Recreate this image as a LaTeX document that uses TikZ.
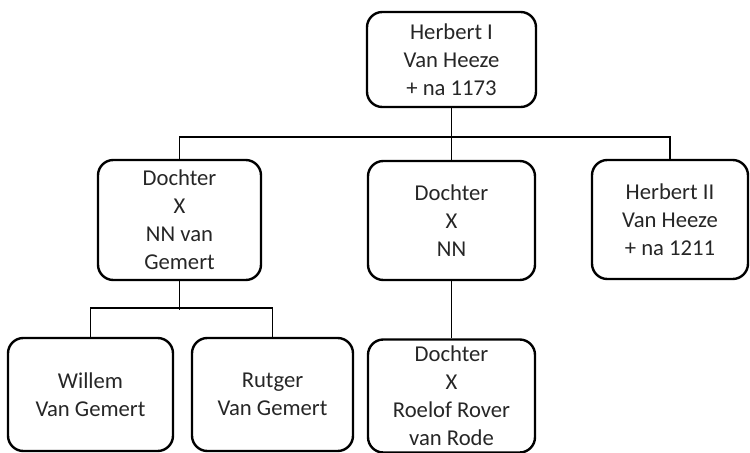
\documentclass[tikz,border=0pt]{standalone}
\usepackage{fontspec}
\setmainfont{Carlito}

\tikzset{every picture/.style={line width=0.75pt}}
\tikzset{
  famBox/.style={draw, rounded corners=11.5pt, line width=1.8pt, inner sep=0pt, align=center,
    text=black!85, font=\fontsize{17}{21}\selectfont},
  famLine/.style={line width=1.2pt}
}

\begin{document}
\begin{tikzpicture}[x=0.75pt,y=0.75pt,yscale=-1,xscale=1]
\useasboundingbox (0,0) rectangle (750,453);

%Rounded Rect [id:herbertOne]
\node [famBox, minimum width=126.75pt, minimum height=71.25pt] (herbertOne) at (451.5,59.5) {Herbert I\\Van Heeze\\+ na 1173};
%Rounded Rect [id:dochterGemert]
\node [famBox, minimum width=122.25pt, minimum height=90pt] (dochterGemert) at (179.5,220) {Dochter\\X\\NN van\\Gemert};
%Rounded Rect [id:dochterNN]
\node [famBox, minimum width=125.25pt, minimum height=89.25pt] (dochterNN) at (451.5,220.5) {Dochter\\X\\NN};
%Rounded Rect [id:herbertTwo]
\node [famBox, minimum width=117pt, minimum height=89.25pt] (herbertTwo) at (670,219.5) {Herbert II\\Van Heeze\\+ na 1211};
%Rounded Rect [id:willem]
\node [famBox, minimum width=123.75pt, minimum height=84.75pt] (willem) at (90.5,394.5) {Willem\\Van Gemert};
%Rounded Rect [id:rutger]
\node [famBox, minimum width=120.75pt, minimum height=84.75pt] (rutger) at (272.5,394.5) {Rutger\\Van Gemert};
%Rounded Rect [id:dochterRode]
\node [famBox, minimum width=125.25pt, minimum height=84.75pt] (dochterRode) at (451.5,396) {Dochter\\X\\Roelof Rover\\van Rode};

%Straight Lines [id:topFork]
\draw [famLine] (herbertOne.south) -- (dochterNN.north);
\draw [famLine] (dochterGemert.north) -- ++(0,-22) -| (herbertTwo.north);
%Straight Lines [id:gemertFork]
\draw [famLine] (dochterGemert.south) -- ++(0,29);
\draw [famLine] (willem.north) -- ++(0,-29) -| (rutger.north);
%Straight Lines [id:nnDown]
\draw [famLine] (dochterNN.south) -- (dochterRode.north);

\end{tikzpicture}
\end{document}
